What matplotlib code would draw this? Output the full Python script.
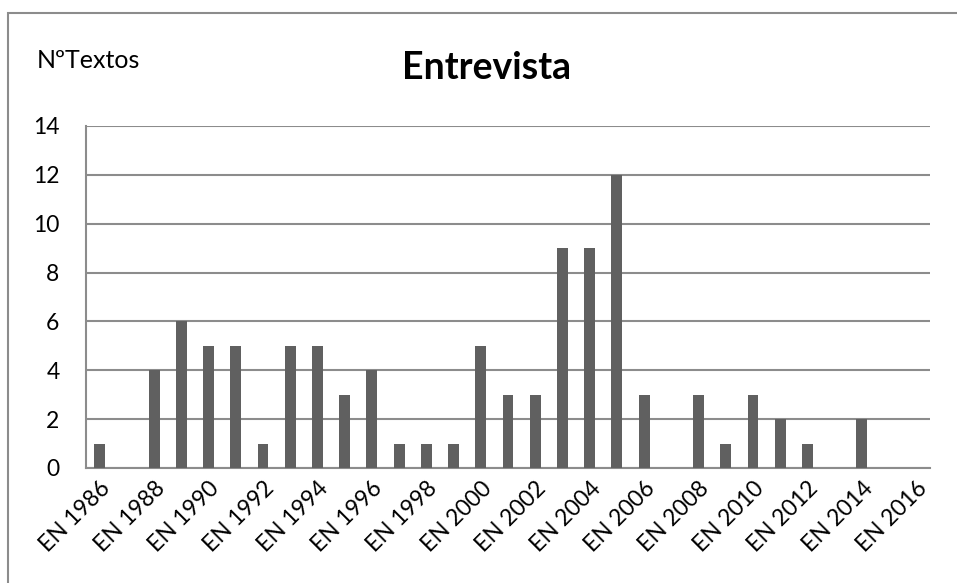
import matplotlib.pyplot as plt
from matplotlib.patches import Rectangle

years = list(range(1986, 2017))
textos = [1, 0, 4, 6, 5, 5, 1, 5, 5, 3, 4, 1, 1, 1, 5, 3, 3, 9, 9, 12,
          3, 0, 3, 1, 3, 2, 1, 0, 2, 0, 0]
labels = ["EN %d" % y if (y - 1986) % 2 == 0 else "" for y in years]

plt.rcParams['font.family'] = ['Lato', 'DejaVu Sans']

fig = plt.figure(figsize=(9.57, 5.83), dpi=100)
ax = fig.add_axes([86 / 957, 1 - 468 / 583, 844 / 957, 342 / 583])

x = list(range(len(years)))
ax.bar(x, textos, width=0.4, color="#606060", zorder=3)

ax.set_xlim(-0.5, len(years) - 0.5)
ax.set_ylim(0, 14)
ax.set_yticks(range(0, 15, 2))
ax.set_xticks(x)
ax.set_xticklabels(labels, rotation=45, ha="right", va="top",
                   rotation_mode="anchor", fontsize=16.5)
ax.tick_params(axis="both", length=0, labelsize=16.5)
ax.tick_params(axis="y", pad=19)
ax.tick_params(axis="x", pad=7)
ax.grid(axis="y", color="#8c8c8c", linewidth=1.5, zorder=0)
for s in ["top", "right"]:
    ax.spines[s].set_visible(False)
for s in ["left", "bottom"]:
    ax.spines[s].set_color("#8c8c8c")
    ax.spines[s].set_linewidth(1.5)

fig.text(487 / 957, 1 - 68 / 583, "Entrevista", ha="center", va="center",
         fontsize=27, fontweight="bold")
fig.text(37 / 957, 1 - 60 / 583, "NºTextos", ha="left", va="center", fontsize=18)

# chart border (cropped on right and bottom)
fig.patches.append(Rectangle((8 / 957, -0.1), 1.1, 1 - 13 / 583 + 0.1,
                             transform=fig.transFigure, fill=False,
                             edgecolor="#8c8c8c", linewidth=1.5))

fig.savefig("out.png", dpi=100)
